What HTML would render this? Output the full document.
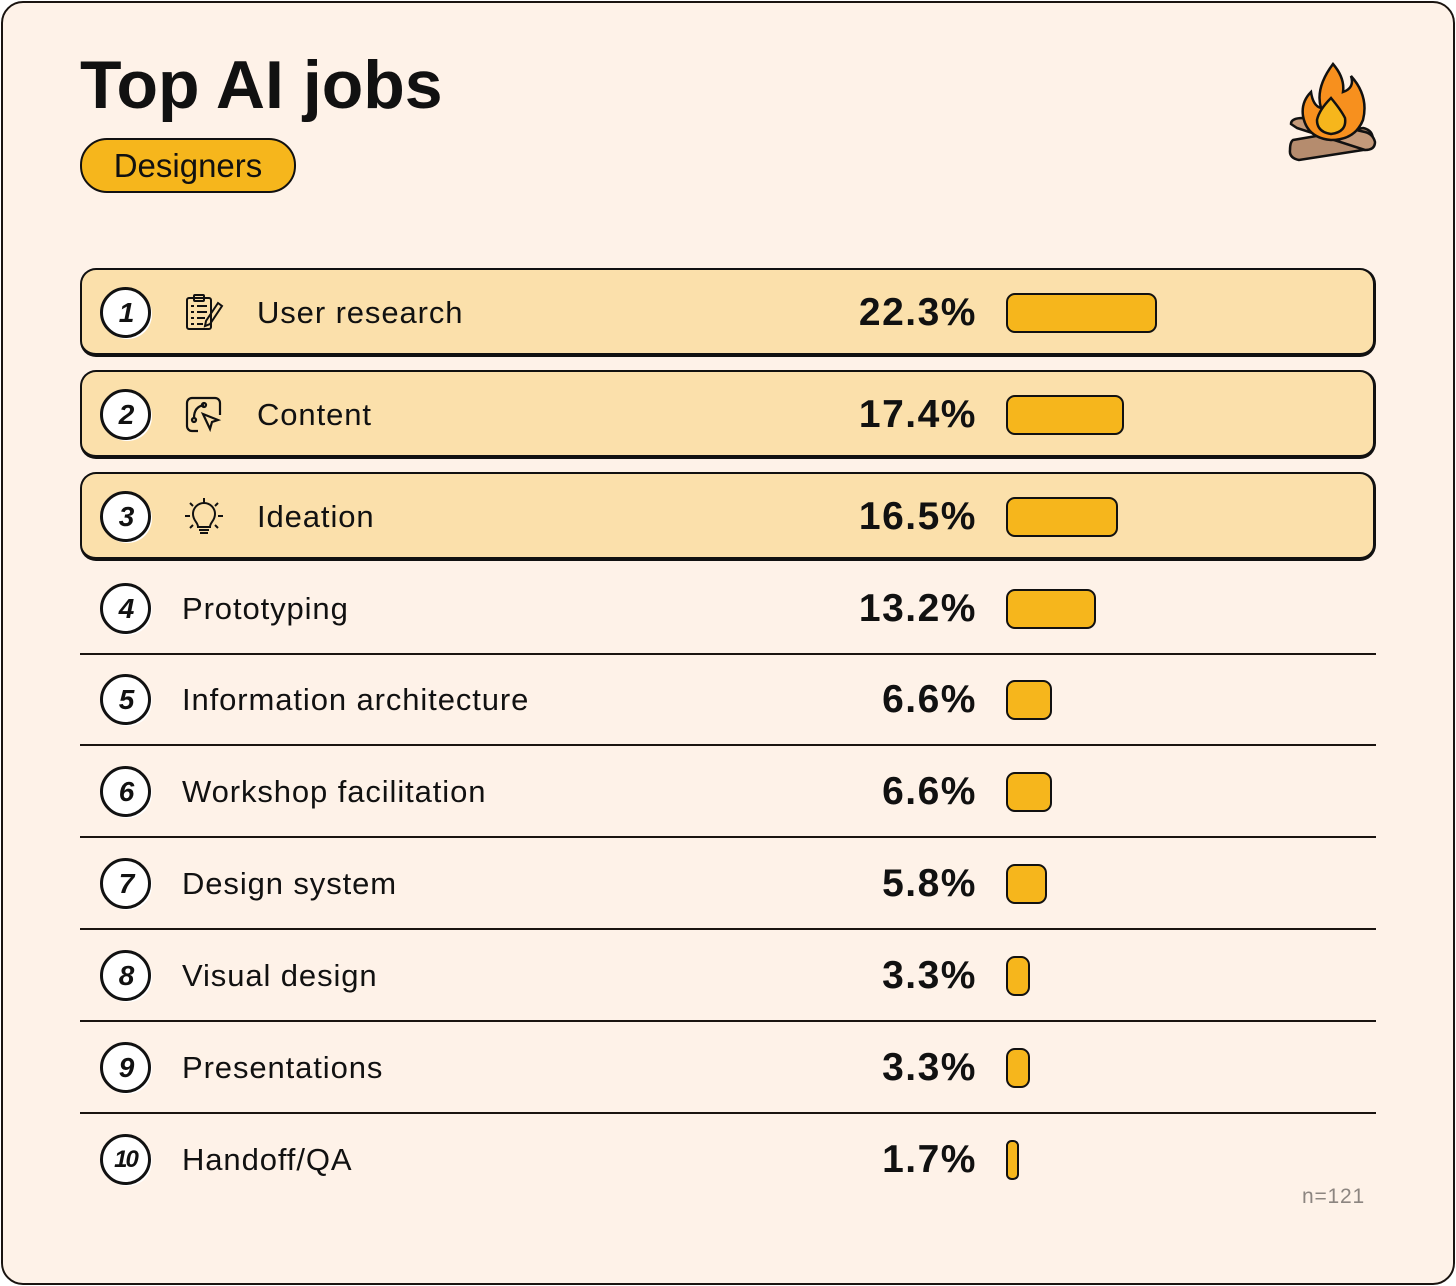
<!DOCTYPE html>
<html><head><meta charset="utf-8"><style>
html,body{margin:0;padding:0;background:#fff;}
body{width:1456px;height:1286px;position:relative;font-family:"Liberation Sans",sans-serif;overflow:hidden;}
#card{position:absolute;left:1px;top:1px;width:1450px;height:1280px;border:2px solid #1a1410;border-radius:22px;background:#fef2e8;}
.t{position:absolute;color:#111;}
</style></head><body>
<div id="card"></div>
<div class="t" style="left:80px;top:46px;font-size:68px;font-weight:bold;letter-spacing:0px;">Top AI jobs</div>
<div style="position:absolute;left:80px;top:138px;width:212px;height:51px;border:2px solid #111;border-radius:27px;background:#f6b61c;font-size:33px;line-height:51px;text-align:center;color:#111;">Designers</div>
<svg style="position:absolute;left:1285px;top:58px" width="95" height="105" viewBox="0 0 95 105">
<path d="M8 82 L78 70 Q88 72 88 82 Q86 92 78 92 L14 102 Q4 100 5 92 Q5 84 8 82Z" fill="#b58c6e" stroke="#111" stroke-width="2.5"/>
<path d="M12 70 L80 92 Q90 92 90 84 Q88 76 80 74 L18 60 Q6 60 6 66Z" fill="#c49a7a" stroke="#111" stroke-width="2.5"/>
<path d="M48 6 Q60 20 58 34 Q70 30 66 18 Q84 38 78 62 Q70 82 46 82 Q22 80 18 58 Q16 44 26 34 Q28 48 36 50 Q30 30 48 6Z" fill="#f7901e" stroke="#111" stroke-width="2.5"/>
<path d="M46 40 Q56 52 60 60 Q62 74 46 76 Q32 74 32 62 Q34 52 46 40Z" fill="#f6b61c" stroke="#111" stroke-width="2.5"/>
</svg>
<div id="rows"></div>
<div class="t" style="left:1302px;top:1185px;font-size:21px;letter-spacing:0.8px;color:#8c8580;">n=121</div>
<script>
const categories=["User research","Content","Ideation","Prototyping","Information architecture","Workshop facilitation","Design system","Visual design","Presentations","Handoff/QA"];
const values=[22.3,17.4,16.5,13.2,6.6,6.6,5.8,3.3,3.3,1.7];
const labels=["22.3%","17.4%","16.5%","13.2%","6.6%","6.6%","5.8%","3.3%","3.3%","1.7%"];
const centers=[313,415,517,609,700,792,884,976,1068,1160];
const scale=v=>v*6.68;
const icons=[
'<svg width="40" height="40" viewBox="0 0 40 40" fill="none" stroke="#111" stroke-width="2"><rect x="3" y="5" width="24" height="31" rx="2"/><rect x="10" y="2" width="10" height="6" rx="1"/><path d="M7 13h3M13 13h10M7 19h3M13 19h10M7 25h3M13 25h8M7 31h3M13 31h6"/><path d="M34 10l4 3-12 18-5 2 1-5z"/></svg>',
'<svg width="40" height="40" viewBox="0 0 40 40" fill="none" stroke="#111" stroke-width="2.2"><path d="M14 36H8a5 5 0 0 1-5-5V8a5 5 0 0 1 5-5h23a5 5 0 0 1 5 5v12"/><circle cx="10" cy="25" r="2"/><circle cx="20" cy="10" r="2"/><path d="M10 23c0-8 4-12 10-13"/><path d="M19 19l15 6-6 2-2 7z"/></svg>',
'<svg width="40" height="40" viewBox="0 0 40 40" fill="none" stroke="#111" stroke-width="2"><path d="M20 1v5M6 6l3 3M34 6l-3 3M1 19h5M34 19h5M6 31l3-3M34 31l-3-3"/><path d="M14 30c0-5-5-6-5-13a11 11 0 0 1 22 0c0 7-5 8-5 13z"/><path d="M15 33h10M16 36h8"/></svg>'];
const root=document.getElementById('rows');
let html='';
for(let i=0;i<categories.length;i++){
  const c=centers[i];const hl=i<3;
  if(hl){html+=`<div style="position:absolute;left:80px;top:${c-45}px;width:1291px;height:83px;border:2px solid #111;border-bottom-width:4px;border-right-width:3px;border-radius:16px;background:#fbe0ab;"></div>`;}
  else if(i<categories.length-1){html+=`<div style="position:absolute;left:80px;top:${c+44}px;width:1296px;height:2px;background:#1a1410;"></div>`;}
  html+=`<div style="position:absolute;left:103px;top:${c-23}px;width:49px;height:49px;border-radius:50%;background:#fff;"></div>`;
  html+=`<div style="position:absolute;left:100px;top:${c-26}px;width:45px;height:45px;border:3px solid #111;border-radius:50%;background:#fff;font-size:${i==9?24:28}px;font-weight:bold;font-style:italic;line-height:45px;text-align:center;color:#111;letter-spacing:-2px;">${i+1}</div>`;
  if(hl){html+=`<div style="position:absolute;left:184px;top:${c-20}px;">${icons[i]}</div>`;}
  html+=`<div style="position:absolute;left:${hl?257:182}px;top:${c-18}px;font-size:31px;line-height:36px;letter-spacing:0.9px;color:#111;">${categories[i]}</div>`;
  html+=`<div style="position:absolute;right:${1456-977}px;top:${c-21}px;font-size:39px;line-height:42px;font-weight:bold;letter-spacing:1.5px;color:#111;">${labels[i]}</div>`;
  html+=`<div style="position:absolute;left:1006px;top:${c-20}px;width:${scale(values[i])-2}px;height:36px;border:2px solid #111;border-radius:${Math.min(9,scale(values[i])/2)}px;background:#f6b61c;box-sizing:content-box;"></div>`;
}
root.innerHTML=html;
</script>
</body></html>
